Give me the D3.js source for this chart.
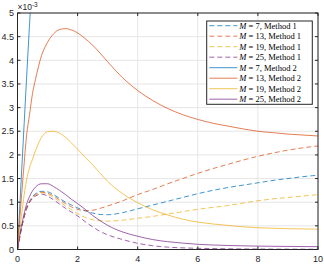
<!DOCTYPE html>
<html><head><meta charset="utf-8">
<script src="https://cdn.jsdelivr.net/npm/d3@7"></script>
<style>
html,body{margin:0;padding:0;background:#fff;}
svg{display:block;}
</style></head>
<body>
<script>
const xs = [0,0.1,0.2,0.3,0.4,0.5,0.6,0.8,1.0,1.2,1.4,1.6,1.8,2.0,2.25,2.5,2.75,3.0,3.5,4.0,4.5,5.0,5.5,6,6.5,7,7.5,8,8.5,9,9.5,10];

// Method 1 (dashed), values ×1e-3
const m1_M7  = [0,0.35,0.65,0.88,1.02,1.12,1.18,1.23,1.22,1.16,1.08,1.00,0.94,0.88,0.82,0.77,0.74,0.735,0.78,0.86,0.94,1.02,1.10,1.18,1.25,1.31,1.36,1.41,1.46,1.50,1.54,1.57];
const m1_M13 = [0,0.35,0.65,0.87,1.01,1.10,1.16,1.21,1.19,1.13,1.05,0.97,0.90,0.85,0.82,0.83,0.87,0.92,1.03,1.16,1.27,1.39,1.50,1.61,1.71,1.80,1.89,1.97,2.04,2.10,2.15,2.19];
const m1_M19 = [0,0.35,0.64,0.86,1.00,1.09,1.15,1.20,1.17,1.10,1.01,0.92,0.84,0.76,0.68,0.63,0.61,0.60,0.62,0.66,0.70,0.75,0.80,0.85,0.89,0.93,0.98,1.03,1.07,1.10,1.13,1.16];
const m1_M25 = [0,0.35,0.64,0.85,0.99,1.08,1.13,1.17,1.13,1.05,0.96,0.87,0.79,0.71,0.59,0.48,0.38,0.31,0.21,0.13,0.08,0.05,0.035,0.025,0.02,0.015,0.012,0.01,0.008,0.007,0.006,0.005];

// Method 2 (solid)
const m2_M7_x = [0,0.1,0.2,0.3,0.4,0.5];
const m2_M7  = [0,1.2,2.4,3.6,4.75,5.9];
const m2_M13 = [0,0.85,1.65,2.4,2.85,3.3,3.6,4.1,4.38,4.56,4.65,4.67,4.64,4.58,4.46,4.32,4.15,3.97,3.63,3.36,3.15,2.98,2.85,2.75,2.67,2.61,2.55,2.50,2.47,2.44,2.42,2.40];
const m2_M19 = [0,0.55,1.05,1.47,1.73,1.91,2.09,2.37,2.49,2.50,2.46,2.37,2.25,2.12,1.95,1.79,1.61,1.44,1.18,0.99,0.84,0.73,0.64,0.58,0.54,0.51,0.48,0.46,0.45,0.44,0.435,0.43];
const m2_M25 = [0,0.38,0.70,0.95,1.12,1.24,1.32,1.39,1.39,1.33,1.25,1.16,1.06,0.97,0.85,0.72,0.61,0.51,0.37,0.28,0.21,0.165,0.135,0.11,0.095,0.085,0.078,0.072,0.068,0.065,0.062,0.06];

const xTicks = [0,2,4,6,8,10];
const yTicks = [0,0.5,1,1.5,2,2.5,3,3.5,4,4.5,5];
const legendM = ["7","13","19","25","7","13","19","25"];
const legendMethod = ["1","1","1","1","2","2","2","2"];

const colors = ["#0072BD","#D95319","#EDB120","#7E2F8E"];

const W = 324, H = 264;
const svg = d3.select("body").append("svg").attr("width",W).attr("height",H);
const L = 17.5, R = 318, T = 13, B = 249.5;
const x = d3.scaleLinear().domain([0,10]).range([L,R]);
const y = d3.scaleLinear().domain([0,5]).range([B,T]);

// grid
const grid = svg.append("g");
xTicks.forEach(t => grid.append("line").attr("x1",x(t)).attr("x2",x(t)).attr("y1",T).attr("y2",B).attr("stroke","#e6e6e6").attr("stroke-width",1));
yTicks.forEach(t => grid.append("line").attr("x1",L).attr("x2",R).attr("y1",y(t)).attr("y2",y(t)).attr("stroke","#e6e6e6").attr("stroke-width",1));

svg.append("defs").append("clipPath").attr("id","clip").append("rect").attr("x",L).attr("y",T).attr("width",R-L).attr("height",B-T);

const line = d3.line().x(d=>x(d[0])).y(d=>y(d[1])).curve(d3.curveMonotoneX);
const lines = svg.append("g").attr("clip-path","url(#clip)");
const m1 = [m1_M7,m1_M13,m1_M19,m1_M25];
const m2 = [m2_M7,m2_M13,m2_M19,m2_M25];
m1.forEach((s,i)=>{
  lines.append("path").attr("d",line(xs.map((v,j)=>[v,s[j]]))).attr("fill","none").attr("stroke",colors[i]).attr("stroke-width",0.75).attr("stroke-dasharray","5,3");
});
m2.forEach((s,i)=>{
  const xx = i===0 ? m2_M7_x : xs;
  lines.append("path").attr("d",line(xx.map((v,j)=>[v,s[j]]))).attr("fill","none").attr("stroke",colors[i]).attr("stroke-width",0.75);
});

// axes box and ticks
const ax = svg.append("g").attr("stroke","#262626").attr("stroke-width",1).attr("fill","none");
ax.append("rect").attr("x",L).attr("y",T).attr("width",R-L).attr("height",B-T).attr("stroke","#262626");
xTicks.forEach(t=>{
  ax.append("line").attr("x1",x(t)).attr("x2",x(t)).attr("y1",B).attr("y2",B-3);
  ax.append("line").attr("x1",x(t)).attr("x2",x(t)).attr("y1",T).attr("y2",T+3);
});
yTicks.forEach(t=>{
  ax.append("line").attr("x1",L).attr("x2",L+3).attr("y1",y(t)).attr("y2",y(t));
  ax.append("line").attr("x1",R).attr("x2",R-3).attr("y1",y(t)).attr("y2",y(t));
});

const font = "'Liberation Sans', Arial, sans-serif";
const lab = svg.append("g").attr("font-family",font).attr("font-size",9).attr("fill","#262626");
xTicks.forEach(t=>lab.append("text").attr("x",x(t)).attr("y",B+12).attr("text-anchor","middle").text(d3.format("")(t)));
yTicks.forEach(t=>lab.append("text").attr("x",L-3.5).attr("y",y(t)+3.2).attr("text-anchor","end").text(d3.format("")(t)));
const ex = lab.append("text").attr("x",L).attr("y",T-3).attr("font-size",8.5);
ex.append("tspan").text("\u00d710");
ex.append("tspan").attr("dy",-3.5).attr("font-size",6.5).text("-3");

// legend
const lg = svg.append("g");
const lx = 206.7, ly = 21, lw = 105.6, lh = 83.3;
lg.append("rect").attr("x",lx).attr("y",ly).attr("width",lw).attr("height",lh).attr("fill","#fff").attr("stroke","#262626").attr("stroke-width",1);
for(let i=0;i<8;i++){
  const cy = 25.7 + i*10.5;
  lg.append("line").attr("x1",209.3).attr("x2",237.3).attr("y1",cy).attr("y2",cy)
    .attr("stroke",colors[i%4]).attr("stroke-width",0.75).attr("stroke-dasharray", i<4 ? "5,3" : null);
  const t = lg.append("text").attr("x",239.3).attr("y",cy+3).attr("font-family","'Liberation Serif','DejaVu Serif',serif").attr("font-size",8.5).attr("fill","#000");
  t.append("tspan").attr("font-style","italic").text("M");
  t.append("tspan").text(" = " + legendM[i] + ", Method " + legendMethod[i]);
}
</script>
</body></html>
